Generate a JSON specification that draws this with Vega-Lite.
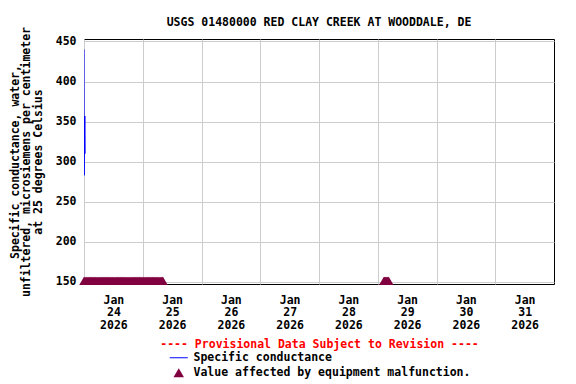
{
  "$schema": "https://vega.github.io/schema/vega-lite/v6.json",
  "width": 470,
  "height": 245,
  "autosize": {"type": "none"},
  "padding": {"left": 84, "top": 39, "right": 22, "bottom": 100},
  "background": "white",
  "title": {
    "text": "USGS 01480000 RED CLAY CREEK AT WOODDALE, DE",
    "font": "DejaVu Sans Mono",
    "fontSize": 11.5,
    "fontWeight": "bold",
    "color": "black",
    "anchor": "middle",
    "offset": 15,
    "dy": 17
  },
  "config": {
    "font": "DejaVu Sans Mono",
    "view": {"stroke": "black", "strokeWidth": 1},
    "axis": {
      "labelFont": "DejaVu Sans Mono",
      "labelFontSize": 11.5,
      "labelFontWeight": "bold",
      "labelColor": "black",
      "titleFont": "DejaVu Sans Mono",
      "titleFontSize": 11.5,
      "titleFontWeight": "bold",
      "titleColor": "black",
      "gridColor": "#cccccc",
      "gridWidth": 1,
      "gridOpacity": 1,
      "ticks": false,
      "domain": false
    },
    "legend": {
      "labelFont": "DejaVu Sans Mono",
      "labelFontSize": 11.5,
      "labelFontWeight": "bold",
      "labelColor": "black",
      "labelLimit": 500
    }
  },
  "datasets": {
    "sc": [
      {"time": "2026-01-24T00:00:00", "value": 440},
      {"time": "2026-01-24T00:05:00", "value": 283},
      {"time": "2026-01-24T00:10:00", "value": 357},
      {"time": "2026-01-24T00:15:00", "value": 310},
      {"time": "2026-01-24T00:20:00", "value": 357},
      {"time": "2026-01-24T00:25:00", "value": 310}
    ],
    "mal": [
      {"time": "2026-01-24T00:00:00", "value": 151.5},
      {"time": "2026-01-24T00:20:00", "value": 151.5},
      {"time": "2026-01-24T00:40:00", "value": 151.5},
      {"time": "2026-01-24T01:00:00", "value": 151.5},
      {"time": "2026-01-24T01:20:00", "value": 151.5},
      {"time": "2026-01-24T01:40:00", "value": 151.5},
      {"time": "2026-01-24T02:00:00", "value": 151.5},
      {"time": "2026-01-24T02:20:00", "value": 151.5},
      {"time": "2026-01-24T02:40:00", "value": 151.5},
      {"time": "2026-01-24T03:00:00", "value": 151.5},
      {"time": "2026-01-24T03:20:00", "value": 151.5},
      {"time": "2026-01-24T03:40:00", "value": 151.5},
      {"time": "2026-01-24T04:00:00", "value": 151.5},
      {"time": "2026-01-24T04:20:00", "value": 151.5},
      {"time": "2026-01-24T04:40:00", "value": 151.5},
      {"time": "2026-01-24T05:00:00", "value": 151.5},
      {"time": "2026-01-24T05:20:00", "value": 151.5},
      {"time": "2026-01-24T05:40:00", "value": 151.5},
      {"time": "2026-01-24T06:00:00", "value": 151.5},
      {"time": "2026-01-24T06:20:00", "value": 151.5},
      {"time": "2026-01-24T06:40:00", "value": 151.5},
      {"time": "2026-01-24T07:00:00", "value": 151.5},
      {"time": "2026-01-24T07:20:00", "value": 151.5},
      {"time": "2026-01-24T07:40:00", "value": 151.5},
      {"time": "2026-01-24T08:00:00", "value": 151.5},
      {"time": "2026-01-24T08:20:00", "value": 151.5},
      {"time": "2026-01-24T08:40:00", "value": 151.5},
      {"time": "2026-01-24T09:00:00", "value": 151.5},
      {"time": "2026-01-24T09:20:00", "value": 151.5},
      {"time": "2026-01-24T09:40:00", "value": 151.5},
      {"time": "2026-01-24T10:00:00", "value": 151.5},
      {"time": "2026-01-24T10:20:00", "value": 151.5},
      {"time": "2026-01-24T10:40:00", "value": 151.5},
      {"time": "2026-01-24T11:00:00", "value": 151.5},
      {"time": "2026-01-24T11:20:00", "value": 151.5},
      {"time": "2026-01-24T11:40:00", "value": 151.5},
      {"time": "2026-01-24T12:00:00", "value": 151.5},
      {"time": "2026-01-24T12:20:00", "value": 151.5},
      {"time": "2026-01-24T12:40:00", "value": 151.5},
      {"time": "2026-01-24T13:00:00", "value": 151.5},
      {"time": "2026-01-24T13:20:00", "value": 151.5},
      {"time": "2026-01-24T13:40:00", "value": 151.5},
      {"time": "2026-01-24T14:00:00", "value": 151.5},
      {"time": "2026-01-24T14:20:00", "value": 151.5},
      {"time": "2026-01-24T14:40:00", "value": 151.5},
      {"time": "2026-01-24T15:00:00", "value": 151.5},
      {"time": "2026-01-24T15:20:00", "value": 151.5},
      {"time": "2026-01-24T15:40:00", "value": 151.5},
      {"time": "2026-01-24T16:00:00", "value": 151.5},
      {"time": "2026-01-24T16:20:00", "value": 151.5},
      {"time": "2026-01-24T16:40:00", "value": 151.5},
      {"time": "2026-01-24T17:00:00", "value": 151.5},
      {"time": "2026-01-24T17:20:00", "value": 151.5},
      {"time": "2026-01-24T17:40:00", "value": 151.5},
      {"time": "2026-01-24T18:00:00", "value": 151.5},
      {"time": "2026-01-24T18:20:00", "value": 151.5},
      {"time": "2026-01-24T18:40:00", "value": 151.5},
      {"time": "2026-01-24T19:00:00", "value": 151.5},
      {"time": "2026-01-24T19:20:00", "value": 151.5},
      {"time": "2026-01-24T19:40:00", "value": 151.5},
      {"time": "2026-01-24T20:00:00", "value": 151.5},
      {"time": "2026-01-24T20:20:00", "value": 151.5},
      {"time": "2026-01-24T20:40:00", "value": 151.5},
      {"time": "2026-01-24T21:00:00", "value": 151.5},
      {"time": "2026-01-24T21:20:00", "value": 151.5},
      {"time": "2026-01-24T21:40:00", "value": 151.5},
      {"time": "2026-01-24T22:00:00", "value": 151.5},
      {"time": "2026-01-24T22:20:00", "value": 151.5},
      {"time": "2026-01-24T22:40:00", "value": 151.5},
      {"time": "2026-01-24T23:00:00", "value": 151.5},
      {"time": "2026-01-24T23:20:00", "value": 151.5},
      {"time": "2026-01-24T23:40:00", "value": 151.5},
      {"time": "2026-01-25T00:00:00", "value": 151.5},
      {"time": "2026-01-25T00:20:00", "value": 151.5},
      {"time": "2026-01-25T00:40:00", "value": 151.5},
      {"time": "2026-01-25T01:00:00", "value": 151.5},
      {"time": "2026-01-25T01:20:00", "value": 151.5},
      {"time": "2026-01-25T01:40:00", "value": 151.5},
      {"time": "2026-01-25T02:00:00", "value": 151.5},
      {"time": "2026-01-25T02:20:00", "value": 151.5},
      {"time": "2026-01-25T02:40:00", "value": 151.5},
      {"time": "2026-01-25T03:00:00", "value": 151.5},
      {"time": "2026-01-25T03:20:00", "value": 151.5},
      {"time": "2026-01-25T03:40:00", "value": 151.5},
      {"time": "2026-01-25T04:00:00", "value": 151.5},
      {"time": "2026-01-25T04:20:00", "value": 151.5},
      {"time": "2026-01-25T04:40:00", "value": 151.5},
      {"time": "2026-01-25T05:00:00", "value": 151.5},
      {"time": "2026-01-25T05:20:00", "value": 151.5},
      {"time": "2026-01-25T05:40:00", "value": 151.5},
      {"time": "2026-01-25T06:00:00", "value": 151.5},
      {"time": "2026-01-25T06:20:00", "value": 151.5},
      {"time": "2026-01-25T06:40:00", "value": 151.5},
      {"time": "2026-01-25T07:00:00", "value": 151.5},
      {"time": "2026-01-25T07:20:00", "value": 151.5},
      {"time": "2026-01-25T07:40:00", "value": 151.5},
      {"time": "2026-01-25T08:00:00", "value": 151.5},
      {"time": "2026-01-25T08:15:00", "value": 151.5},
      {"time": "2026-01-29T02:30:00", "value": 151.5},
      {"time": "2026-01-29T02:45:00", "value": 151.5},
      {"time": "2026-01-29T03:00:00", "value": 151.5},
      {"time": "2026-01-29T03:15:00", "value": 151.5},
      {"time": "2026-01-29T03:30:00", "value": 151.5},
      {"time": "2026-01-29T03:45:00", "value": 151.5},
      {"time": "2026-01-29T04:00:00", "value": 151.5},
      {"time": "2026-01-29T04:15:00", "value": 151.5},
      {"time": "2026-01-29T04:30:00", "value": 151.5}
    ]
  },
  "encoding": {
    "x": {
      "field": "time",
      "type": "temporal",
      "scale": {
        "domain": [
          {"year": 2026, "month": 1, "date": 24},
          {"year": 2026, "month": 2, "date": 1}
        ]
      },
      "axis": {
        "values": [
          {"year": 2026, "month": 1, "date": 24},
          {"year": 2026, "month": 1, "date": 25},
          {"year": 2026, "month": 1, "date": 26},
          {"year": 2026, "month": 1, "date": 27},
          {"year": 2026, "month": 1, "date": 28},
          {"year": 2026, "month": 1, "date": 29},
          {"year": 2026, "month": 1, "date": 30},
          {"year": 2026, "month": 1, "date": 31}
        ],
        "labelExpr": "[timeFormat(datum.value, '%b'), timeFormat(datum.value, '%d'), timeFormat(datum.value, '%Y')]",
        "labelOffset": 29.375,
        "labelAlign": "center",
        "labelBaseline": "top",
        "labelPadding": 10,
        "labelLineHeight": 12.5,
        "labelFlush": false,
        "labelOverlap": false,
        "grid": true,
        "title": "---- Provisional Data Subject to Revision ----",
        "titleColor": "#ff0000",
        "titlePadding": 8
      }
    },
    "y": {
      "field": "value",
      "type": "quantitative",
      "scale": {"domain": [147.5, 453], "nice": false, "zero": false},
      "axis": {
        "values": [150, 200, 250, 300, 350, 400, 450],
        "grid": true,
        "labelPadding": 8,
        "title": [
          "Specific conductance, water,",
          "unfiltered, microsiemens per centimeter",
          "at 25 degrees Celsius"
        ],
        "titleLineHeight": 11.5,
        "titlePadding": 12
      }
    }
  },
  "layer": [
    {
      "data": {"name": "sc"},
      "mark": {"type": "line", "strokeWidth": 1, "clip": true},
      "encoding": {
        "color": {
          "datum": "Specific conductance",
          "type": "nominal",
          "scale": {
            "domain": ["Specific conductance", "Value affected by equipment malfunction."],
            "range": ["#0000ff", "#800040"]
          },
          "legend": {
            "title": null,
            "orient": "none",
            "legendX": 89,
            "legendY": 313,
            "direction": "vertical",
            "padding": 0,
            "symbolSize": 144,
            "rowPadding": 2,
            "labelOffset": 9,
            "encode": {
              "symbols": {
                "update": {
                  "shape": {"signal": "datum.value === 'Specific conductance' ? 'stroke' : 'triangle-up'"},
                  "size": {"signal": "datum.value === 'Specific conductance' ? 324 : 110"},
                  "fill": {"signal": "datum.value === 'Specific conductance' ? 'transparent' : '#800040'"},
                  "stroke": {"signal": "datum.value === 'Specific conductance' ? '#0000ff' : '#800040'"},
                  "strokeWidth": {"signal": "datum.value === 'Specific conductance' ? 1 : 0"},
                  "opacity": {"value": 1}
                }
              }
            }
          }
        }
      }
    },
    {
      "data": {"name": "mal"},
      "mark": {"type": "point", "shape": "triangle-up", "filled": true, "size": 90, "opacity": 1},
      "encoding": {
        "color": {"datum": "Value affected by equipment malfunction.", "type": "nominal"}
      }
    }
  ]
}
